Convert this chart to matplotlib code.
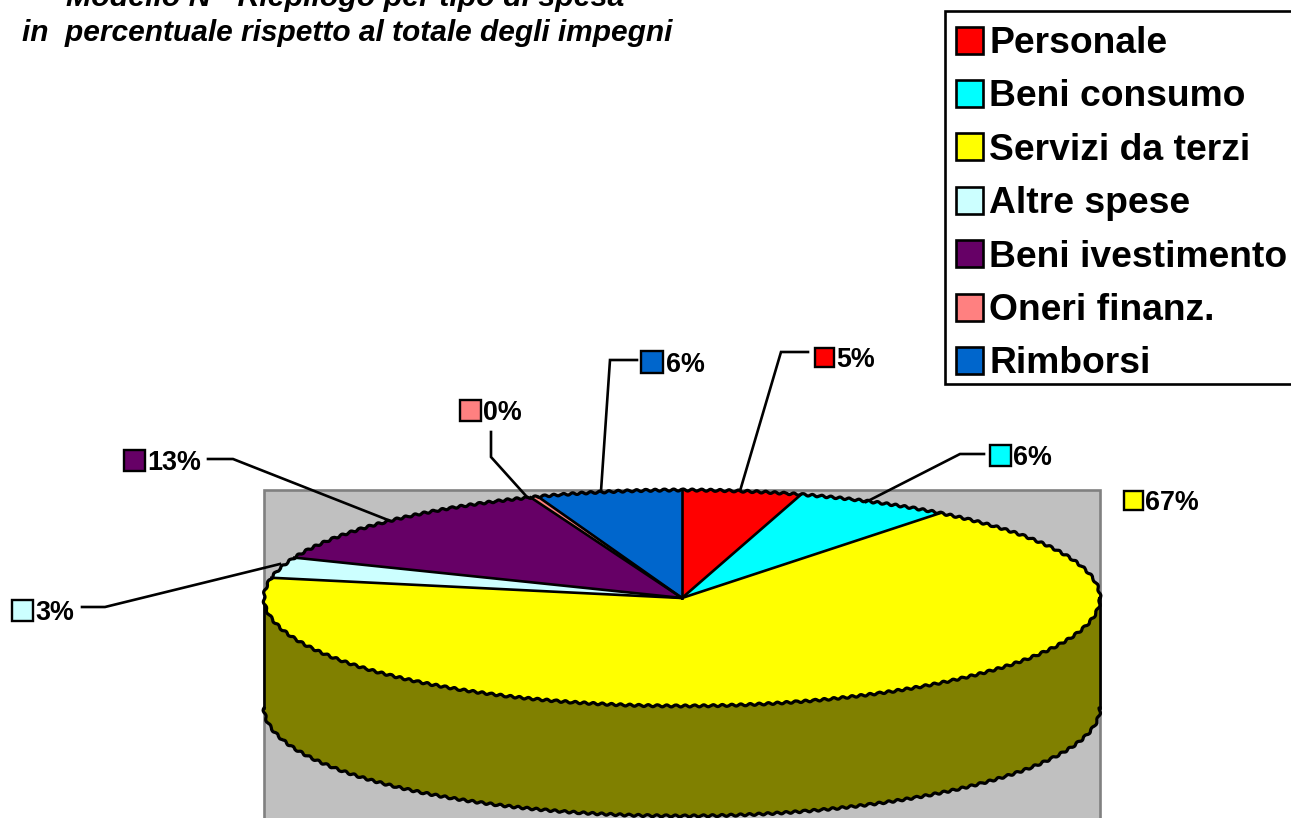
# -*- coding: utf-8 -*-
import matplotlib
matplotlib.use('Agg')
import matplotlib.pyplot as plt
import numpy as np
from matplotlib.patches import Wedge, Rectangle
from matplotlib.transforms import Affine2D

plt.rcParams['font.family'] = ['Liberation Sans', 'DejaVu Sans']

# dati
categorie = ['Personale', 'Beni consumo', 'Servizi da terzi', 'Altre spese',
             'Beni ivestimento', 'Oneri finanz.', 'Rimborsi']
valori = [4.6, 6.0, 67.4, 3.1, 13.0, 0.3, 5.6]
colori = ['#FF0000', '#00FFFF', '#FFFF00', '#CCFFFF', '#660066', '#FF8080', '#0066CC']
titolo = ['Modello N - Riepilogo per tipo di spesa',
          'in  percentuale rispetto al totale degli impegni']

# geometria in pixel della figura
CX, CY, RX, RY, DEPTH = 682, 598, 418, 108, 110
LW = 1.9
SKETCH = (1.0, 9, 1)  # bordo seghettato come nell'originale

# posizione etichette: quadratino (x, y centro)
etichette_pos = [(824, 357), (1000, 455), (1133, 500), (22, 610), (134, 460), (470, 410), (652, 362)]
etichette_sw = [19, 21, 19, 21, 21, 21, 22]
# linee guida
guide = [
    [(740, 491), (781, 352), (808, 352)],
    [(866, 502), (960, 454), (984, 454)],
    None,
    [(280, 564), (105, 607), (82, 607)],
    [(388, 520), (233, 459), (208, 459)],
    [(527, 497), (491, 457), (491, 432)],
    [(601, 491), (610, 360), (637, 360)],
]

fig = plt.figure(figsize=(12.91, 8.18), dpi=100)
ax = fig.add_axes([0, 0, 1, 1])
ax.set_xlim(0, 1291)
ax.set_ylim(818, 0)
ax.axis('off')

# sfondo grigio
ax.add_patch(Rectangle((CX - RX, CY - RY), 2 * RX, 2 * RY + DEPTH + 20, facecolor='#C0C0C0',
                       edgecolor='#808080', linewidth=LW, zorder=1))

# angoli delle fette, in senso orario partendo dall'alto
frazioni = np.cumsum([0] + valori) / sum(valori)
angoli = 90 - 360 * frazioni

# fianco del cilindro (solo metà frontale)
t = np.radians(np.linspace(180, 360, 300))
xs = CX + RX * np.cos(t)
ys = CY - RY * np.sin(t)
ax.fill(np.r_[xs, xs[::-1]], np.r_[ys, ys[::-1] + DEPTH], facecolor='#808000', edgecolor='none', zorder=2)
bordo, = ax.plot(xs, ys + DEPTH, color='black', linewidth=LW + 0.4, zorder=2)
bordo.set_sketch_params(*SKETCH)
ax.plot([CX - RX, CX - RX], [CY, CY + DEPTH], color='black', linewidth=LW, zorder=2)
ax.plot([CX + RX, CX + RX], [CY, CY + DEPTH], color='black', linewidth=LW, zorder=2)

# fette
ellisse = Affine2D().scale(RX, -RY).translate(CX, CY) + ax.transData
for i, col in enumerate(colori):
    ax.add_patch(Wedge((0, 0), 1, angoli[i + 1], angoli[i], facecolor=col, edgecolor='none',
                       transform=ellisse, zorder=3))
# raggi tra le fette e bordo esterno
for a in np.radians(angoli[:-1]):
    ax.plot([CX, CX + RX * np.cos(a)], [CY, CY - RY * np.sin(a)], color='black', linewidth=LW, zorder=3.5)
t = np.radians(np.linspace(0, 360, 600))
bordo, = ax.plot(CX + RX * np.cos(t), CY - RY * np.sin(t), color='black', linewidth=LW + 0.4, zorder=3.5)
bordo.set_sketch_params(*SKETCH)

# linee guida ed etichette
for i, val in enumerate(valori):
    if guide[i] is not None:
        gx, gy = zip(*guide[i])
        ax.plot(gx, gy, color='black', linewidth=LW, solid_joinstyle='miter', zorder=4)
    x, y = etichette_pos[i]
    s = etichette_sw[i]
    ax.add_patch(Rectangle((x - s / 2, y - s / 2), s, s, facecolor=colori[i], edgecolor='black',
                           linewidth=LW * 0.9, zorder=5))
    ax.text(x + s / 2 + 3, y, f'{val:.0f}%', fontsize=19.4, fontweight='bold', ha='left',
            va='center_baseline', zorder=5)

# legenda
ax.add_patch(Rectangle((945, 11), 360, 373, facecolor='white', edgecolor='black', linewidth=LW, zorder=6))
for i, nome in enumerate(categorie):
    y = 40 + i * 53.4
    ax.add_patch(Rectangle((956, y - 13.5), 27, 27, facecolor=colori[i], edgecolor='black',
                           linewidth=LW, zorder=7))
    ax.text(989, y - 0.5, nome, fontsize=26.85, fontweight='bold', ha='left', va='center_baseline', zorder=7)

# titolo, la prima riga è tagliata in alto come nell'originale
ax.text(66, 6, titolo[0], fontsize=21.8, fontweight='bold', fontstyle='italic', ha='left', va='baseline')
ax.text(22, 41, titolo[1], fontsize=21.5, fontweight='bold', fontstyle='italic', ha='left', va='baseline')

fig.savefig('out.png', dpi=100, facecolor='white')
